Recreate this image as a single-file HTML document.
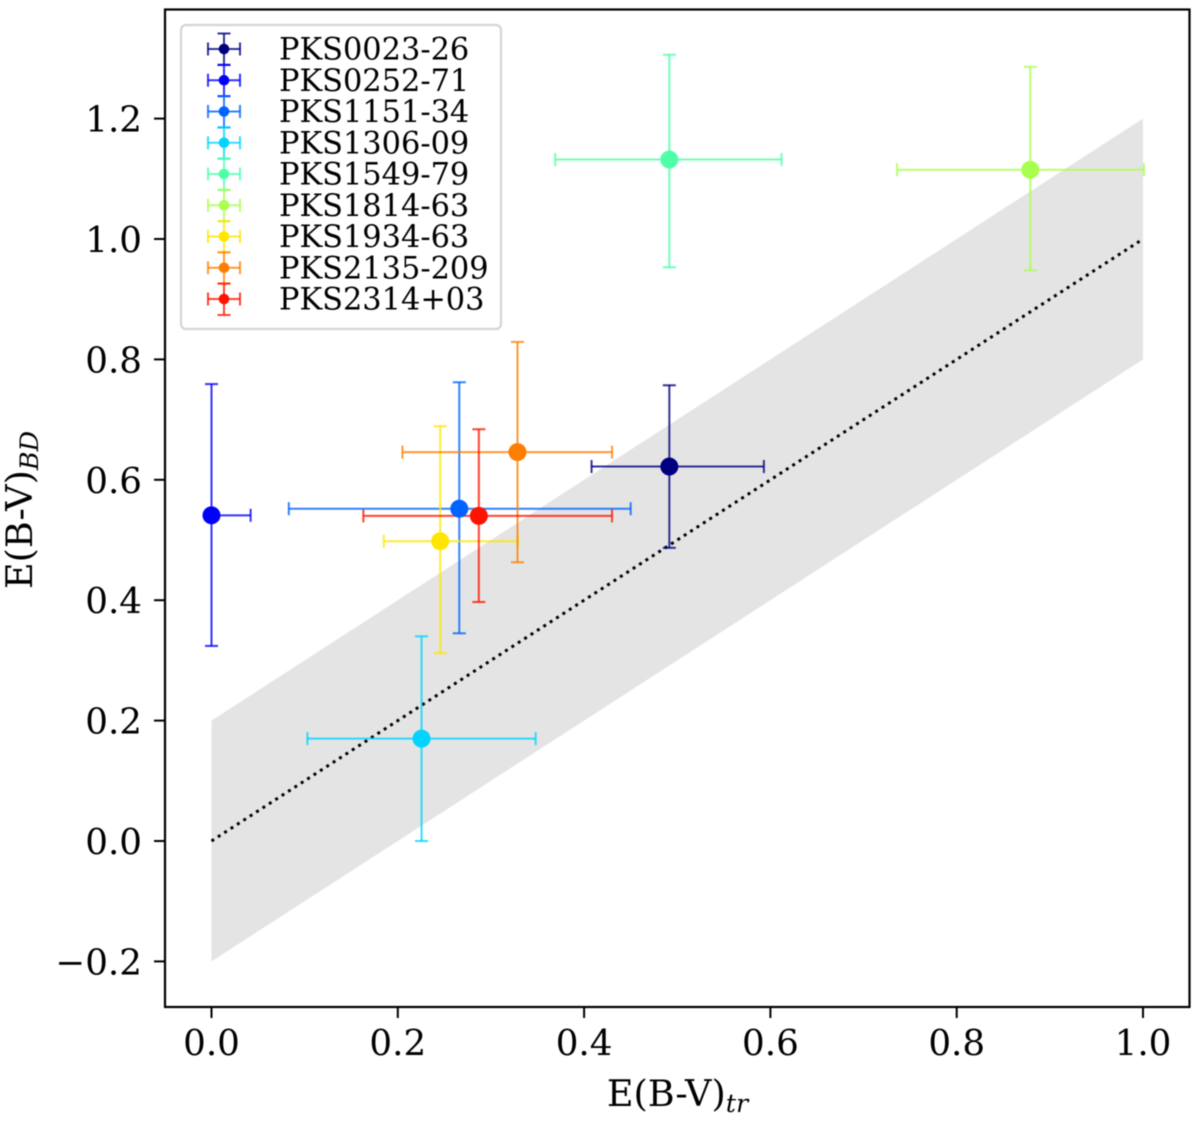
<!DOCTYPE html>
<html lang="en">
<head>
<meta charset="utf-8">
<title>E(B-V) comparison chart</title>
<style>
html,body{margin:0;padding:0;background:#fff;}
svg{display:block;filter:blur(0.4px);}
text{font-family:"DejaVu Serif","Liberation Serif",serif;fill:#000;}
</style>
</head>
<body>
<svg id="chart" xmlns="http://www.w3.org/2000/svg" width="1200" height="1122" viewBox="0 0 1200 1122"></svg>
<script>
const names = ["PKS0023-26","PKS0252-71","PKS1151-34","PKS1306-09","PKS1549-79","PKS1814-63","PKS1934-63","PKS2135-209","PKS2314+03"];
const colors = ["#00007f","#0000ff","#0063ff","#00d4ff","#4effa9","#a9ff4e","#ffe500","#ff7e00","#ff1300"];
const xValues = [0.4915,0.000,0.266,0.2255,0.4915,0.879,0.2455,0.3285,0.287];
const xLow = [0.408,0.000,0.083,0.103,0.369,0.736,0.185,0.205,0.163];
const xHigh = [0.593,0.042,0.450,0.348,0.612,1.001,0.329,0.430,0.430];
const yValues = [0.622,0.541,0.552,0.170,1.132,1.115,0.498,0.646,0.540];
const yLow = [0.487,0.324,0.345,0.000,0.953,0.948,0.312,0.463,0.397];
const yHigh = [0.757,0.759,0.762,0.340,1.306,1.286,0.689,0.829,0.684];
const xTicks = [0,0.2,0.4,0.6,0.8,1.0];
const yTicks = [-0.2,0,0.2,0.4,0.6,0.8,1.0,1.2];
const identityLine = [0,1];
const bandWidth = 0.2;

const NS = "http://www.w3.org/2000/svg";
const svg = document.getElementById("chart");
const sx = v => 211.5 + v * 931.5;
const sy = v => 841 - v * 602;

function make(tag, attrs, parent, text) {
  const e = document.createElementNS(NS, tag);
  for (const k in attrs) e.setAttribute(k, attrs[k]);
  if (text !== undefined) e.textContent = text;
  (parent || svg).appendChild(e);
  return e;
}
function fmt(v){ return (v < 0 ? "\u2212" : "") + Math.abs(v).toFixed(1); }

// shaded band
const band = make("polygon", {
  points: [
    [identityLine[0], identityLine[0] + bandWidth],
    [identityLine[1], identityLine[1] + bandWidth],
    [identityLine[1], identityLine[1] - bandWidth],
    [identityLine[0], identityLine[0] - bandWidth]
  ].map(p => sx(p[0]) + "," + sy(p[1])).join(" "),
  fill: "#e4e4e4"
});



// identity line
const idLine = make("line", {
  x1: sx(identityLine[0]), y1: sy(identityLine[0]),
  x2: sx(identityLine[1]), y2: sy(identityLine[1]),
  stroke: "#000", "stroke-width": 3, "stroke-dasharray": "3 4.6"
});



// error bars + points
function errorBar(parent, color, cx, cy, x0, x1, y0, y1, cap, w) {
  const g = make("g", {stroke: color, "stroke-width": w, "stroke-opacity": 0.8, fill: "none"}, parent);
  make("line", {x1: x0, y1: cy, x2: x1, y2: cy}, g);
  make("line", {x1: cx, y1: y0, x2: cx, y2: y1}, g);
  make("line", {x1: x0, y1: cy - cap, x2: x0, y2: cy + cap}, g);
  make("line", {x1: x1, y1: cy - cap, x2: x1, y2: cy + cap}, g);
  make("line", {x1: cx - cap, y1: y0, x2: cx + cap, y2: y0}, g);
  make("line", {x1: cx - cap, y1: y1, x2: cx + cap, y2: y1}, g);
}
names.forEach((n, i) => {
  const g = make("g", {});
  
  
  errorBar(g, colors[i], sx(xValues[i]), sy(yValues[i]), sx(xLow[i]), sx(xHigh[i]), sy(yLow[i]), sy(yHigh[i]), 6.5, 2);
});
names.forEach((n, i) => {
  const c = make("circle", {cx: sx(xValues[i]), cy: sy(yValues[i]), r: 9, fill: colors[i]});
  
  
});

// axes frame
const frame = make("rect", {x: 165, y: 9.5, width: 1024.5, height: 997.5, fill: "none", stroke: "#000", "stroke-width": 2.2});



// ticks
xTicks.forEach(v => {
  const t = make("line", {x1: sx(v), y1: 1007, x2: sx(v), y2: 1018, stroke: "#000", "stroke-width": 2});
  
  
  const l = make("text", {x: sx(v), y: 1055, "font-size": 35.7, "text-anchor": "middle"}, svg, fmt(v));
  
  
});
yTicks.forEach(v => {
  const t = make("line", {x1: 154, y1: sy(v), x2: 165, y2: sy(v), stroke: "#000", "stroke-width": 2});
  
  
  const l = make("text", {x: 142, y: sy(v) + 13, "font-size": 35.7, "text-anchor": "end"}, svg, fmt(v));
  
  
});

// axis titles
const xTitle = make("text", {x: 677.5, y: 1106, "font-size": 36.6, "text-anchor": "middle"});


make("tspan", {}, xTitle, "E(B-V)");
make("tspan", {"font-size": 25.5, "font-style": "italic", dy: 6}, xTitle, "tr");

const yTitle = make("text", {transform: "translate(32,510) rotate(-90)", "font-size": 36.6, "text-anchor": "middle"});


make("tspan", {}, yTitle, "E(B-V)");
make("tspan", {"font-size": 25.5, "font-style": "italic", dy: 6}, yTitle, "BD");

// legend
const legend = make("g", {});


make("rect", {x: 181, y: 25, width: 320, height: 304, rx: 5, ry: 5, fill: "#fff", "fill-opacity": 0.8, stroke: "#d4d4d4", "stroke-width": 2.2}, legend);
names.forEach((n, i) => {
  const cy = 49 + i * 31.25;
  const g = make("g", {}, legend);
  
  
  errorBar(g, colors[i], 224, cy, 208, 240, cy + 16, cy - 15.5, 6.5, 2);
  make("circle", {cx: 224, cy: cy, r: 5.3, fill: colors[i]}, g);
  make("text", {x: 279, y: cy + 10.5, "font-size": 30.4}, g, n);
});
</script>
</body>
</html>
